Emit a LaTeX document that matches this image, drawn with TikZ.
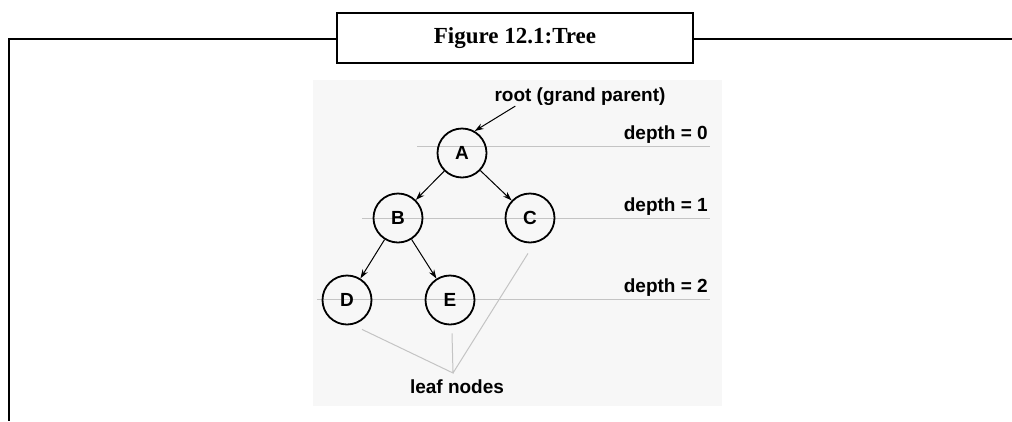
\documentclass[tikz,border=0pt]{standalone}
\usepackage{fontspec}
\setmainfont{Liberation Serif}
\setsansfont{Liberation Sans}
\usetikzlibrary{arrows.meta}
\definecolor{panelgray}{HTML}{F7F7F7}
\definecolor{rulegray}{HTML}{C4C4C4}
\tikzset{
  treenode/.style={circle,draw,line width=1.8pt,minimum size=49pt,inner sep=0pt,font=\sffamily\bfseries\fontsize{19}{19}\selectfont},
  treelabel/.style={font=\sffamily\bfseries\fontsize{19}{19}\selectfont,inner sep=0pt},
  depthline/.style={rulegray,line width=1pt},
  titlebox/.style={draw,fill=white,line width=2pt,minimum width=356pt,minimum height=50pt,font=\bfseries\fontsize{23}{23}\selectfont}
}

\begin{document}
\begin{tikzpicture}[>={Stealth[length=9pt,width=6pt]},x=1pt,y=-1pt,inner sep=2pt]
  \useasboundingbox(0,0)rectangle(1012,421);
  \draw[line width=2pt](1012,39)--(9,39)--(9,421);
  \node[titlebox](title)at(515,38){Figure 12.1:Tree};
  \fill[panelgray](313,80)rectangle(722,406);
  \draw[depthline](417,146)--(710,146)(362,218)--(710,218)(317,299)--(710,299);
  \node[treelabel,anchor=east](d0)at(708,135){depth = 0};
  \node[treelabel,anchor=east](d1)at(708,207){depth = 1};
  \node[treelabel,anchor=east](d2)at(708,288){depth = 2};
  \node[treenode](A)at(462,153){A};
  \node[treenode](B)at(398,218){B};
  \node[treenode](C)at(530,218){C};
  \node[treenode](D)at(347,300){D};
  \node[treenode](E)at(450,300){E};
  \node[treelabel](root)at(580,97){root (grand parent)};
  \node[treelabel](leaf)at(457,387){leaf nodes};
  \coordinate(meet)at(453,373);
  \draw[->,line width=1pt]([xshift=21pt]root.south west)--(A.60);
  \draw[->,line width=1pt](A)--(B);
  \draw[->,line width=1pt](A)--(C);
  \draw[->,line width=1pt](B)--(D);
  \draw[->,line width=1pt](B)--(E);
  \draw[depthline]([shift={(15,4)}]D.south)--(meet)--([shift={(2,8)}]E.south)(meet)--([shift={(-2,10)}]C.south);
\end{tikzpicture}
\end{document}
